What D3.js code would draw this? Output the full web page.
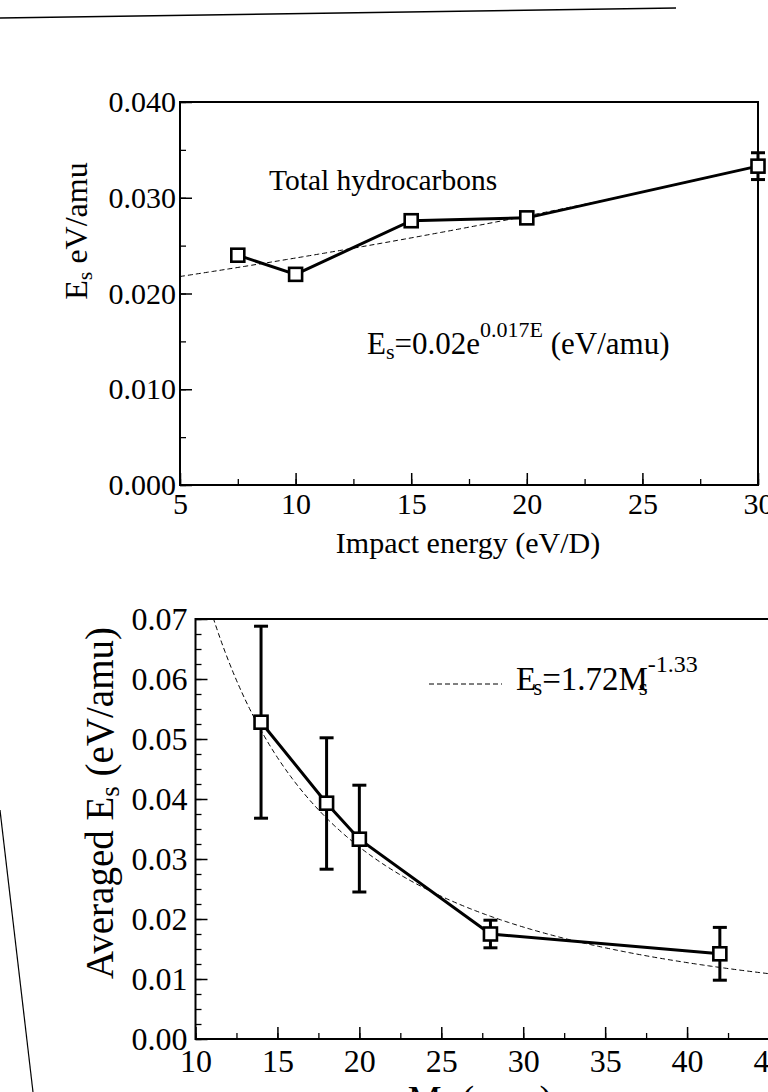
<!DOCTYPE html>
<html>
<head>
<meta charset="utf-8">
<script src="https://cdn.jsdelivr.net/npm/d3@7"></script>
<style>
  body { margin: 0; background: #fff; }
  svg { display: block; }
  text { font-family: "Liberation Serif", "Times New Roman", serif; fill: #000; }
</style>
</head>
<body>
<svg id="fig" width="768" height="1092"></svg>
<script>
// ---- Upper panel: sputtering threshold of total hydrocarbons vs impact energy ----
const impactEnergy = [7.5, 10, 15, 20, 30];
const esTotal      = [0.0240, 0.0220, 0.0276, 0.0279, 0.0333];
const esTotalLo    = [0.0236, 0.0220, 0.0276, 0.0279, 0.0319];
const esTotalHi    = [0.0245, 0.0220, 0.0276, 0.0279, 0.0347];
const energyTicks  = [5, 10, 15, 20, 25, 30];
const esTopTicks   = [0.000, 0.010, 0.020, 0.030, 0.040];
// exponential fit quoted in the panel: Es = 0.02 e^(0.017 E)
const expFitA = 0.02, expFitB = 0.017;

// ---- Lower panel: averaged Es vs fragment mass ----
const fragMass   = [14, 18, 20, 28, 42];
const esAvg      = [0.0528, 0.0393, 0.0333, 0.0175, 0.0142];
const esAvgLo    = [0.0368, 0.0283, 0.0245, 0.0152, 0.0098];
const esAvgHi    = [0.0688, 0.0502, 0.0423, 0.0198, 0.0186];
const massTicks  = [10, 15, 20, 25, 30, 35, 40, 45];
const esBotTicks = [0.00, 0.01, 0.02, 0.03, 0.04, 0.05, 0.06, 0.07];
// power-law fit quoted in the legend: Es = 1.72 Ms^-1.33
const powFitA = 1.72, powFitB = -1.33;

const svg = d3.select("#fig");

// stray page-edge strokes
svg.append("line").attr("x1", 0).attr("y1", 18).attr("x2", 676).attr("y2", 8)
  .attr("stroke", "#000").attr("stroke-width", 1.4);
svg.append("line").attr("x1", 0).attr("y1", 810).attr("x2", 33).attr("y2", 1092)
  .attr("stroke", "#000").attr("stroke-width", 1.2);

function panel(cfg) {
  const g = svg.append("g");
  const x = d3.scaleLinear().domain(cfg.xDomain).range([cfg.left, cfg.right]);
  const y = d3.scaleLinear().domain(cfg.yDomain).range([cfg.bottom, cfg.top]);

  const clipId = "clip-" + cfg.id;
  svg.append("clipPath").attr("id", clipId).append("rect")
    .attr("x", cfg.left).attr("y", cfg.top)
    .attr("width", cfg.right - cfg.left).attr("height", cfg.bottom - cfg.top);

  // minor ticks (inward, unlabeled)
  const xMinor = d3.range(cfg.xDomain[0], cfg.xDomain[1] + 1e-9, cfg.xMinorStep);
  const yMinor = d3.range(cfg.yDomain[0], cfg.yDomain[1] + 1e-9, cfg.yMinorStep);
  g.append("g").attr("transform", `translate(0,${cfg.bottom})`)
    .call(d3.axisBottom(x).tickValues(xMinor).tickSize(-6).tickFormat(""))
    .call(s => s.select(".domain").remove())
    .call(s => s.selectAll("line").attr("stroke-width", 1.3));
  g.append("g").attr("transform", `translate(${cfg.left},0)`)
    .call(d3.axisLeft(y).tickValues(yMinor).tickSize(-6).tickFormat(""))
    .call(s => s.select(".domain").remove())
    .call(s => s.selectAll("line").attr("stroke-width", 1.3));

  // major ticks with labels
  g.append("g").attr("transform", `translate(0,${cfg.bottom})`)
    .call(d3.axisBottom(x).tickValues(cfg.xTicks).tickSize(-12)
      .tickPadding(cfg.xPad).tickFormat(d3.format("d")))
    .call(s => s.select(".domain").remove())
    .call(s => s.selectAll("line").attr("stroke-width", 1.5))
    .call(s => s.selectAll("text").attr("font-size", cfg.tickFont)
      .attr("font-family", "Liberation Serif, serif").attr("fill", "#000"));
  g.append("g").attr("transform", `translate(${cfg.left},0)`)
    .call(d3.axisLeft(y).tickValues(cfg.yTicks).tickSize(-12)
      .tickPadding(cfg.yPad).tickFormat(d3.format(cfg.yFmt)))
    .call(s => s.select(".domain").remove())
    .call(s => s.selectAll("line").attr("stroke-width", 1.5))
    .call(s => s.selectAll("text").attr("font-size", cfg.tickFont)
      .attr("font-family", "Liberation Serif, serif").attr("fill", "#000"));

  // frame
  g.append("rect").attr("x", cfg.left).attr("y", cfg.top)
    .attr("width", cfg.right - cfg.left).attr("height", cfg.bottom - cfg.top)
    .attr("fill", "none").attr("stroke", "#000").attr("stroke-width", 2);

  // fitted curve (dashed)
  const fitPts = d3.range(cfg.xDomain[0], cfg.xDomain[1] + 1e-9, 0.1)
    .map(v => [v, cfg.fit(v)]);
  g.append("path").attr("clip-path", `url(#${clipId})`)
    .attr("d", d3.line().x(d => x(d[0])).y(d => y(d[1]))(fitPts))
    .attr("fill", "none").attr("stroke", "#000").attr("stroke-width", 1)
    .attr("stroke-dasharray", "5,3");

  // connecting line
  const pts = cfg.xs.map((v, i) => ({ x: v, y: cfg.ys[i], lo: cfg.lo[i], hi: cfg.hi[i] }));
  g.append("path")
    .attr("d", d3.line().x(d => x(d.x)).y(d => y(d.y))(pts))
    .attr("fill", "none").attr("stroke", "#000").attr("stroke-width", 3);

  // error bars
  const eb = g.append("g").attr("stroke", "#000").attr("stroke-width", 3);
  pts.filter(d => d.hi - d.lo > 0).forEach(d => {
    eb.append("line").attr("x1", x(d.x)).attr("x2", x(d.x))
      .attr("y1", y(d.lo)).attr("y2", y(d.hi));
    eb.append("line").attr("x1", x(d.x) - 7).attr("x2", x(d.x) + 7)
      .attr("y1", y(d.lo)).attr("y2", y(d.lo));
    eb.append("line").attr("x1", x(d.x) - 7).attr("x2", x(d.x) + 7)
      .attr("y1", y(d.hi)).attr("y2", y(d.hi));
  });

  // square markers
  g.selectAll("rect.pt").data(pts).join("rect").attr("class", "pt")
    .attr("x", d => x(d.x) - 6.5).attr("y", d => y(d.y) - 6.5)
    .attr("width", 13).attr("height", 13)
    .attr("fill", "#fff").attr("stroke", "#000").attr("stroke-width", 2.6);

  return { g, x, y };
}

// upper panel
panel({
  id: "top", left: 180, right: 758, top: 102, bottom: 485,
  xDomain: [5, 30], yDomain: [0, 0.04], xMinorStep: 2.5, yMinorStep: 0.005,
  xTicks: energyTicks, yTicks: esTopTicks, yFmt: ".3f",
  tickFont: 30, xPad: 8, yPad: 4,
  xs: impactEnergy, ys: esTotal, lo: esTotalLo, hi: esTotalHi,
  fit: E => expFitA * Math.exp(expFitB * E)
});

// lower panel
panel({
  id: "bot", left: 195.5, right: 769, top: 619, bottom: 1039,
  xDomain: [10, 45], yDomain: [0, 0.07], xMinorStep: 2.5, yMinorStep: 0.0025,
  xTicks: massTicks, yTicks: esBotTicks, yFmt: ".2f",
  tickFont: 32, xPad: 10, yPad: 8,
  xs: fragMass, ys: esAvg, lo: esAvgLo, hi: esAvgHi,
  fit: M => powFitA * Math.pow(M, powFitB)
});

// ---- text ----
function label(x, y, size, parts, opts = {}) {
  const t = svg.append("text").attr("font-size", size);
  if (opts.rotate) {
    t.attr("transform", `translate(${x},${y}) rotate(-90)`).attr("text-anchor", opts.anchor || "middle");
  } else {
    t.attr("x", x).attr("y", y).attr("text-anchor", opts.anchor || "start");
  }
  parts.forEach(p => {
    const ts = t.append("tspan").text(p.t);
    if (p.size) ts.attr("font-size", p.size);
    if (p.dy) ts.attr("dy", p.dy);
    if (p.dx) ts.attr("dx", p.dx);
  });
  return t;
}

// upper panel labels
label(269, 190, 29.5, [{ t: "Total hydrocarbons" }]);
label(367, 354, 31, [
  { t: "E" }, { t: "s", size: 22, dy: 5 }, { t: "=0.02e", dy: -5 },
  { t: "0.017E", size: 22, dy: -17 }, { t: " (eV/amu)", dy: 17 }
]);
label(468, 553, 30, [{ t: "Impact energy (eV/D)" }], { anchor: "middle" });
label(87, 231, 32, [
  { t: "E" }, { t: "s", size: 22, dy: 5 }, { t: " eV/amu", dy: -5 }
], { rotate: true });

// lower panel legend
svg.append("line").attr("x1", 429).attr("x2", 502).attr("y1", 684).attr("y2", 684)
  .attr("stroke", "#000").attr("stroke-width", 1).attr("stroke-dasharray", "5,3");
label(516, 690, 33, [
  { t: "E" }, { t: "s", size: 23, dy: 5, dx: -3 }, { t: "=1.72M", dy: -5 },
  { t: "s", size: 23, dy: 5, dx: -9 }, { t: "-1.33", size: 24, dy: -23 }
]);

// lower panel axis titles
label(113, 803, 39, [
  { t: "Averaged E" }, { t: "s", size: 27, dy: 6 }, { t: " (eV/amu)", dy: -6 }
], { rotate: true });
label(480, 1112, 38, [
  { t: "M" }, { t: "s", size: 27, dy: 6 }, { t: " (amu)", dy: -6 }
], { anchor: "middle" });
</script>
</body>
</html>
